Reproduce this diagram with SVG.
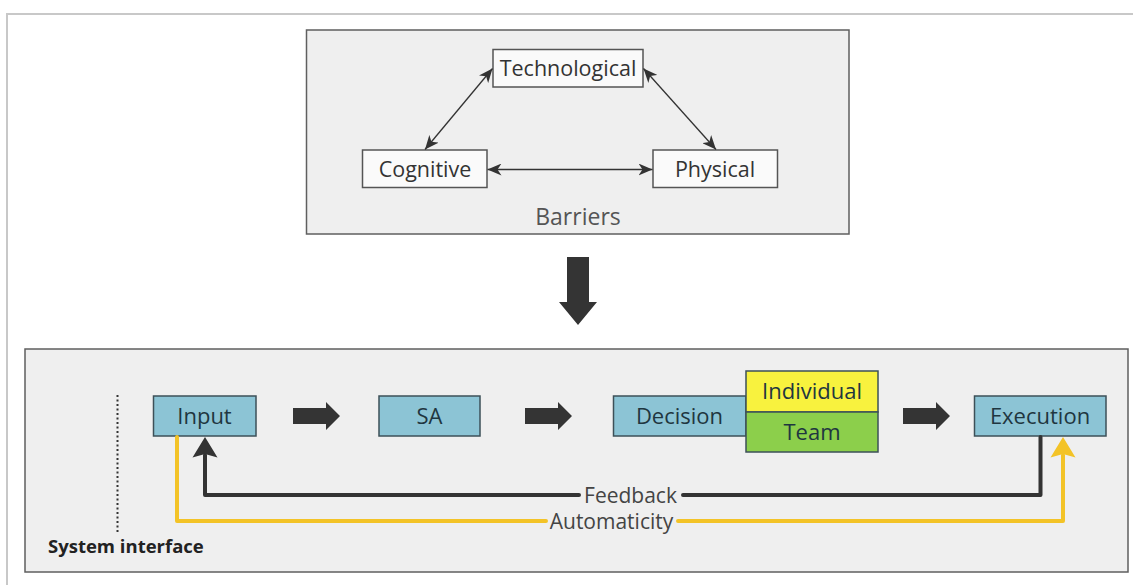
<svg xmlns="http://www.w3.org/2000/svg" width="1133" height="585" viewBox="0 0 1133 585">
  <defs>
    <style>
      text { font-family: "Open Sans", "Liberation Sans", sans-serif; text-anchor: middle; }
      .panel { fill: #efefef; stroke: #5f5f5f; stroke-width: 1.5; }
      .barrier rect { fill: #fafafa; stroke: #555; stroke-width: 1.5; }
      .barrier text { font-size: 21.5px; fill: #333; }
      .step rect { stroke: #3d5058; stroke-width: 1.5; }
      .step text { font-size: 22px; fill: #1f3640; }
      .blue { fill: #8cc4d5; }
      .yellow { fill: #f8f23e; }
      .green { fill: #8ccf4b; }
      .thin { stroke: #333; stroke-width: 1.3; fill: none; marker-start: url(#tip); marker-end: url(#tip); }
      .block { fill: #343434; }
      .fb { stroke: #333; stroke-width: 4; fill: none; stroke-linejoin: round; stroke-linecap: round; }
      .auto { stroke: #f3c327; stroke-width: 4; fill: none; stroke-linejoin: round; stroke-linecap: round; }
      .loop { font-size: 21px; fill: #444; }
    </style>
    <marker id="tip" viewBox="0 0 14 12" refX="14" refY="6" markerWidth="14" markerHeight="12" markerUnits="userSpaceOnUse" orient="auto-start-reverse">
      <path d="M0,0 L14,6 L0,12 L4,6 z" fill="#333"/>
    </marker>
  </defs>

  <!-- page frame -->
  <rect x="0" y="0" width="1133" height="585" fill="#ffffff"/>
  <rect x="7" y="14" width="1140" height="600" fill="#ffffff" stroke="#c8c8c8" stroke-width="2"/>

  <!-- barriers panel -->
  <g id="barriers">
    <rect class="panel" x="306.5" y="30" width="542.5" height="204"/>
    <text x="578" y="225" style="font-size:23px;fill:#555">Barriers</text>
  </g>

  <g id="technological" class="barrier">
    <rect x="493" y="49.5" width="150" height="37.5"/>
    <text x="568" y="75.5">Technological</text>
  </g>
  <g id="cognitive" class="barrier">
    <rect x="362.5" y="150" width="124.5" height="37.5"/>
    <text x="425" y="176.5">Cognitive</text>
  </g>
  <g id="physical" class="barrier">
    <rect x="653" y="150" width="124.5" height="37.5"/>
    <text x="715" y="176.5">Physical</text>
  </g>

  <!-- system panel -->
  <g id="system">
    <rect class="panel" x="25" y="349" width="1103" height="223"/>
    <line x1="117.5" y1="395" x2="117.5" y2="532" stroke="#333" stroke-width="2" stroke-dasharray="2 2.5"/>
    <text x="48" y="553" style="font-size:18.5px;font-weight:bold;fill:#222;text-anchor:start">System interface</text>
  </g>

  <g id="input" class="step">
    <rect class="blue" x="153.5" y="396" width="102.5" height="40"/>
    <text x="204.5" y="424">Input</text>
  </g>
  <g id="sa" class="step">
    <rect class="blue" x="379" y="396" width="101" height="40"/>
    <text x="429.5" y="424">SA</text>
  </g>
  <g id="decision" class="step">
    <rect class="blue" x="613.5" y="396" width="132.5" height="40"/>
    <text x="679.5" y="424">Decision</text>
  </g>
  <g id="individual" class="step">
    <rect class="yellow" x="746" y="371" width="132" height="41"/>
    <text x="812" y="399">Individual</text>
  </g>
  <g id="team" class="step">
    <rect class="green" x="746" y="412" width="132" height="40"/>
    <text x="812" y="440">Team</text>
  </g>
  <g id="execution" class="step">
    <rect class="blue" x="974.5" y="396" width="131.5" height="40"/>
    <text x="1040" y="424">Execution</text>
  </g>

  <!-- connectors -->
  <g id="connectors">
    <line class="thin" x1="487.5" y1="169.5" x2="652.5" y2="169.5"/>
    <line class="thin" x1="425" y1="149.5" x2="492.5" y2="68.5"/>
    <line class="thin" x1="643.5" y1="68.5" x2="716" y2="149.5"/>

    <polygon class="block" points="567,257 589,257 589,302 597,302 578,325 559,302 567,302"/>

    <polygon class="block" points="293,408 326,408 326,402 340,416 326,430 326,424 293,424"/>
    <polygon class="block" points="525,408 558,408 558,402 572,416 558,430 558,424 525,424"/>
    <polygon class="block" points="903,408 936,408 936,402 950,416 936,430 936,424 903,424"/>

    <path class="fb" d="M1040.5 437 V495 H683"/>
    <path class="fb" d="M579 495 H205 V455"/>
    <polygon fill="#333" points="205,437 217.5,457.5 205,454 192.5,457.5"/>
    <text class="loop" x="630.5" y="502.5">Feedback</text>

    <path class="auto" d="M177 437 V521 H546"/>
    <path class="auto" d="M678 521 H1063 V455"/>
    <polygon fill="#f3c327" points="1063,437 1075.5,457.5 1063,454 1050.5,457.5"/>
    <text class="loop" x="611.5" y="529">Automaticity</text>
  </g>
</svg>
